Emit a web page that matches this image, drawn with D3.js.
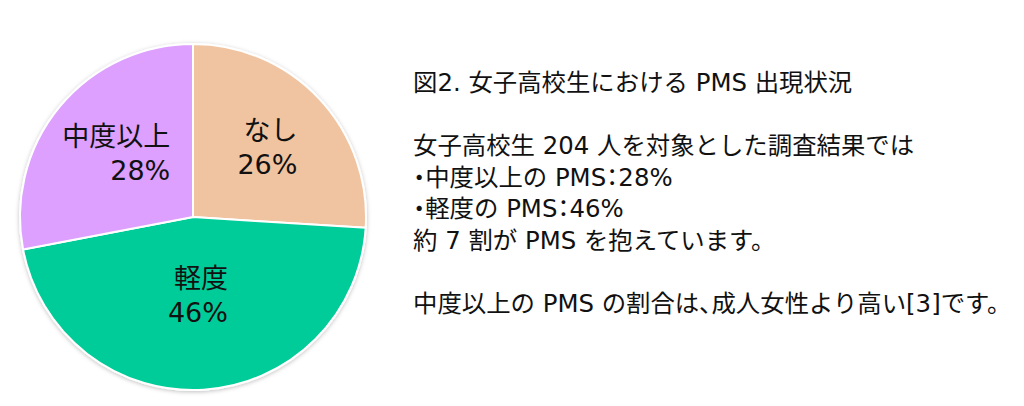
<!DOCTYPE html>
<html><head><meta charset="utf-8">
<script src="https://cdn.jsdelivr.net/npm/d3@7/dist/d3.min.js"></script>
<style>
html,body{margin:0;padding:0;background:#fff;}
svg{display:block;}
text{font-family:"DejaVu Sans","Noto Sans CJK JP",sans-serif;fill:#111;}
.p{font-feature-settings:"palt";}
</style></head>
<body>
<svg id="chart" width="1024" height="406"></svg>
<script>
const categories = ["なし", "軽度", "中度以上"];
const values = [26, 46, 28];
const colors = ["#F0C4A1", "#00CC99", "#DDA0FE"];
const noteLines = [
  "図2. 女子高校生における PMS 出現状況",
  "",
  "女子高校生 204 人を対象とした調査結果では",
  "・中度以上の PMS：28%",
  "・軽度の PMS：46%",
  "約 7 割が PMS を抱えています。",
  "",
  "中度以上の PMS の割合は、成人女性より高い[3]です。"
];

const svg = d3.select("#chart");
const cx = 193, cy = 217, R = 173;

const defs = svg.append("defs");
const f = defs.append("filter").attr("id","sh").attr("x","-10%").attr("y","-10%").attr("width","120%").attr("height","120%");
f.append("feDropShadow").attr("dx",0).attr("dy",1).attr("stdDeviation",2).attr("flood-color","#000").attr("flood-opacity",0.25);

const data = categories.map((c,i)=>({cat:c, value:values[i], color:colors[i]}));
const pie = d3.pie().value(d=>d.value).sort(null);
const arcs = pie(data);
const arc = d3.arc().innerRadius(0).outerRadius(R);
// bigger slices get their label pulled further toward the centre
const labelR = d3.scaleLinear().domain(d3.extent(values)).range([R*0.59, R*0.45]);

const g = svg.append("g").attr("transform",`translate(${cx},${cy})`);
g.append("g").attr("filter","url(#sh)")
  .selectAll("path").data(arcs).join("path")
  .attr("d",arc).attr("fill",d=>d.data.color)
  .attr("stroke","#fff").attr("stroke-width",2).attr("stroke-linejoin","round");

const lab = g.append("g").selectAll("g").data(arcs).join("g");
lab.each(function(d){
  const r = labelR(d.data.value);
  const [x,y] = d3.arc().innerRadius(r).outerRadius(r).centroid(d);
  const sel = d3.select(this);
  const lines = [d.data.cat, d.data.value + "%"];
  const ts = lines.map((t,i)=> sel.append("text")
      .attr("font-size",27).attr("text-anchor","end")
      .attr("y", y + (i-0.5)*34 + 10).text(t));
  const w = d3.max(ts, t=>t.node().getComputedTextLength());
  ts.forEach(t=>t.attr("x", x + w/2));
});

// right-hand note; narrow punctuation rendered proportionally
const punct = /([・：、])/;
const notes = svg.append("g").selectAll("text").data(noteLines).join("text")
  .attr("x",413).attr("y",(d,i)=>91 + i*31.5)
  .attr("font-size",24.4);
notes.each(function(line){
  const t = d3.select(this);
  line.split(punct).filter(s=>s.length).forEach(seg=>{
    const sp = t.append("tspan").text(seg);
    if (punct.test(seg)) sp.attr("class","p");
  });
});
</script>
</body></html>
